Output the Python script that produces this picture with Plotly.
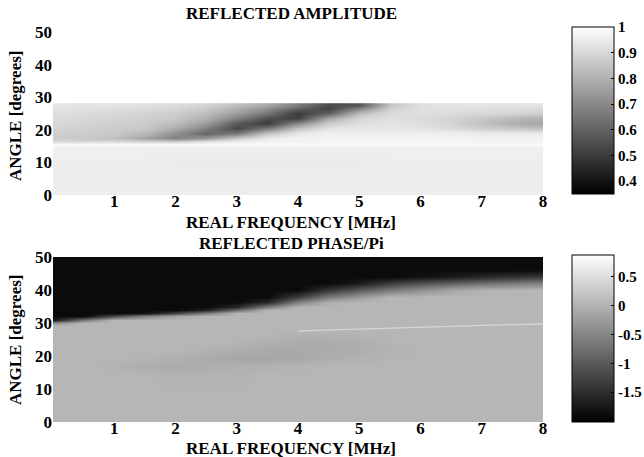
import plotly.graph_objects as go

# ---------------- data ----------------
freq = [0, 0.5, 1, 1.5, 2, 2.5, 3, 3.5, 4, 4.5, 5, 5.5, 6, 6.5, 7, 7.5, 8]

amp_angle = [0, 5, 10, 14.6, 15.5, 16.4, 17.5, 19, 20.5, 22, 23.5, 25, 26.5, 27.6]
amp_values = [
    [.955]*17,
    [.955]*17,
    [.955, .955, .955, .955, .95, .95, .95, .95, .95, .95, .95, .955, .955, .955, .955, .955, .955],
    [.96]*17,
    [.99]*17,
    [.90, .90, .90, .89, .87, .92, .95, .97, .97, .97, .97, .97, .97, .97, .97, .97, .97],
    [.87, .86, .84, .77, .68, .74, .87, .95, .97, .97, .97, .97, .97, .97, .97, .97, .97],
    [.88, .87, .86, .82, .72, .61, .66, .85, .94, .96, .96, .96, .96, .96, .95, .95, .95],
    [.89, .88, .87, .86, .79, .68, .53, .66, .85, .93, .94, .94, .93, .91, .88, .86, .84],
    [.90, .89, .88, .87, .83, .75, .58, .50, .70, .87, .92, .93, .92, .89, .84, .80, .77],
    [.91, .90, .89, .88, .86, .80, .68, .55, .52, .78, .90, .92, .91, .89, .86, .82, .80],
    [.92, .91, .90, .89, .87, .83, .75, .65, .50, .60, .83, .91, .92, .91, .90, .89, .88],
    [.93, .92, .92, .91, .90, .87, .80, .72, .60, .52, .68, .88, .92, .92, .92, .92, .91],
    [.94, .93, .93, .92, .91, .89, .84, .78, .67, .54, .57, .85, .92, .93, .93, .93, .93],
]

phase_angle = [0, 8, 14, 17, 19.5, 22, 25, 27.5, 29, 30, 31, 32, 33, 34, 35, 36.5, 38, 40, 42, 44, 46, 48, 50]
phase_values = [
    [0.05]*17,
    [0.05]*17,
    [0.05, 0.05, 0.05, 0.05, 0.02, 0.02, 0.02, 0.05, 0.05, 0.05, 0.05, 0.05, 0.05, 0.05, 0.05, 0.05, 0.05],
    [0.05, 0.05, 0.02, -0.05, -0.08, -0.05, -0.02, 0.0, 0.02, 0.05, 0.05, 0.05, 0.05, 0.05, 0.05, 0.05, 0.05],
    [0.05, 0.05, 0.05, 0.03, -0.02, -0.08, -0.13, -0.14, -0.10, -0.05, 0.0, 0.03, 0.05, 0.05, 0.05, 0.05, 0.05],
    [0.05, 0.05, 0.05, 0.05, 0.05, 0.02, -0.04, -0.08, -0.10, -0.08, -0.04, 0.0, 0.05, 0.05, 0.05, 0.05, 0.05],
    [0.05, 0.05, 0.05, 0.05, 0.05, 0.05, 0.05, 0.0, -0.05, -0.05, -0.02, 0.05, 0.05, 0.05, 0.05, 0.05, 0.05],
    [0.05]*17,
    [0.05]*17,
    [-0.40, 0.05, 0.05, 0.05, 0.05, 0.05, 0.05, 0.05, 0.05, 0.05, 0.05, 0.05, 0.05, 0.05, 0.05, 0.05, 0.05],
    [-1.71, -0.67, 0.05, 0.05, 0.05, 0.05, 0.05, 0.05, 0.05, 0.05, 0.05, 0.05, 0.05, 0.05, 0.05, 0.05, 0.05],
    [-1.9, -1.9, -1.18, -0.54, -0.16, 0.05, 0.05, 0.05, 0.05, 0.05, 0.05, 0.05, 0.05, 0.05, 0.05, 0.05, 0.05],
    [-1.9, -1.9, -1.9, -1.84, -1.25, -0.63, 0.01, 0.05, 0.05, 0.05, 0.05, 0.05, 0.05, 0.05, 0.05, 0.05, 0.05],
    [-1.9, -1.9, -1.9, -1.9, -1.9, -1.61, -0.77, 0.05, 0.05, 0.05, 0.05, 0.05, 0.05, 0.05, 0.05, 0.05, 0.05],
    [-1.9, -1.9, -1.9, -1.9, -1.9, -1.9, -1.55, -0.60, 0.05, 0.05, 0.05, 0.05, 0.05, 0.05, 0.05, 0.05, 0.05],
    [-1.9, -1.9, -1.9, -1.9, -1.9, -1.9, -1.9, -1.57, -0.60, -0.03, 0.05, 0.05, 0.05, 0.05, 0.05, 0.05, 0.05],
    [-1.9, -1.9, -1.9, -1.9, -1.9, -1.9, -1.9, -1.9, -1.32, -0.61, -0.28, 0.05, 0.05, 0.05, 0.05, 0.05, 0.05],
    [-1.9, -1.9, -1.9, -1.9, -1.9, -1.9, -1.9, -1.9, -1.9, -1.39, -1.00, -0.63, -0.40, -0.15, 0.01, 0.05, 0.05],
    [-1.9, -1.9, -1.9, -1.9, -1.9, -1.9, -1.9, -1.9, -1.9, -1.9, -1.71, -1.35, -1.10, -0.93, -0.77, -0.65, -0.54],
    [-1.9, -1.9, -1.9, -1.9, -1.9, -1.9, -1.9, -1.9, -1.9, -1.9, -1.9, -1.9, -1.80, -1.71, -1.55, -1.43, -1.32],
    [-1.9]*17,
    [-1.9]*17,
    [-1.9]*17,
]

# thin bright ridge in the phase map
ridge_freq = [4.0, 4.5, 5, 5.5, 6, 6.5, 7, 7.5, 8]
ridge_angle = [27.6, 27.9, 28.2, 28.5, 28.8, 29.1, 29.3, 29.5, 29.7]

amp_ticks = [0.4, 0.5, 0.6, 0.7, 0.8, 0.9, 1]
amp_ticktext = ["0.4", "0.5", "0.6", "0.7", "0.8", "0.9", "1"]
phase_ticks = [-1.5, -1, -0.5, 0, 0.5]
phase_ticktext = ["-1.5", "-1", "-0.5", "0", "0.5"]
freq_ticks = [1, 2, 3, 4, 5, 6, 7, 8]
angle_ticks = [0, 10, 20, 30, 40, 50]

# ---------------- figure ----------------
W, H = 644, 457
L, R, T, B = 53, 543, 32, 422          # plot-area pixel box
PW, PH = R - L, B - T
FONT = "Liberation Serif"
bold = dict(family=FONT, size=17, color="black", weight="bold")
cbfont = dict(family=FONT, size=15, color="black", weight="bold")

def px_x(x):
    return (x - L) / PW

def px_y(y):
    return (B - y) / PH

gray = [[0, "black"], [1, "white"]]

def cbar(y_center, tv, tt):
    return dict(
        x=px_x(572), xanchor="left", thickness=42, thicknessmode="pixels",
        len=167 / PH, lenmode="fraction", y=px_y(y_center), yanchor="middle",
        xpad=0, ypad=0, outlinewidth=1, outlinecolor="black",
        tickvals=tv, ticktext=tt, ticks="inside", ticklen=3, tickcolor="black",
        tickfont=cbfont,
    )

fig = go.Figure()
fig.add_trace(go.Heatmap(
    x=freq, y=amp_angle, z=amp_values, zsmooth="best",
    colorscale=gray, zmin=0.35, zmax=1.0,
    xaxis="x", yaxis="y",
    colorbar=cbar(110.5, amp_ticks, amp_ticktext),
))
fig.add_trace(go.Heatmap(
    x=freq, y=phase_angle, z=phase_values, zsmooth="best",
    colorscale=gray, zmin=-2.02, zmax=0.88,
    xaxis="x2", yaxis="y2",
    colorbar=cbar(338.5, phase_ticks, phase_ticktext),
))
fig.add_trace(go.Scatter(
    x=ridge_freq, y=ridge_angle, mode="lines",
    line=dict(color="#d6d6d6", width=1.3),
    xaxis="x2", yaxis="y2", hoverinfo="skip", showlegend=False,
))

axis_common = dict(showgrid=False, zeroline=False, showline=False, ticks="",
                   tickfont=bold, automargin=False)
xcommon = dict(range=[0, 8], tickvals=freq_ticks, ticklabelstandoff=-6, **axis_common)
ycommon = dict(range=[0, 50], tickvals=angle_ticks, **axis_common)
fig.update_layout(
    width=W, height=H,
    margin=dict(l=L, r=W - R, t=T, b=H - B, autoexpand=False),
    paper_bgcolor="white", plot_bgcolor="white",
    showlegend=False,
    xaxis=dict(domain=[0, 1], anchor="y", **xcommon),
    yaxis=dict(domain=[px_y(195), 1], anchor="x", **ycommon),
    xaxis2=dict(domain=[0, 1], anchor="y2", **xcommon),
    yaxis2=dict(domain=[0, px_y(257)], anchor="x2", **ycommon),
)

def label(text, x, y, angle=0):
    fig.add_annotation(text=text, x=px_x(x), y=px_y(y), xref="paper", yref="paper",
                       showarrow=False, font=bold, textangle=angle,
                       xanchor="center", yanchor="middle")

label("REFLECTED AMPLITUDE", 291, 14)
label("REAL FREQUENCY [MHz]", 291, 222)
label("ANGLE [degrees]", 15, 116, -90)
label("REFLECTED PHASE/Pi", 291, 243)
label("REAL FREQUENCY [MHz]", 291, 448)
label("ANGLE [degrees]", 15, 340, -90)

fig.write_html("out.html", config={"displayModeBar": False},
               post_script="document.body.style.margin='0';")
